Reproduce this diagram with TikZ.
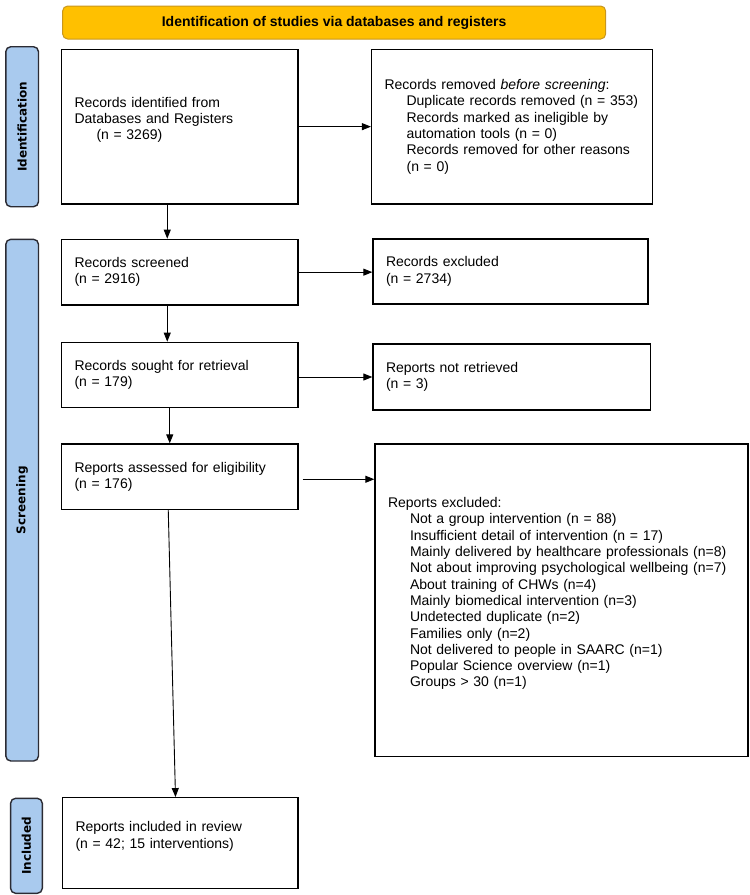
\documentclass[tikz,border=0pt]{standalone}
\usepackage{fontspec}
\setmainfont{Liberation Sans}
\newfontfamily\sidefont{DejaVu Sans}
\usetikzlibrary{arrows.meta}
\definecolor{bannerfill}{HTML}{FFC000}
\definecolor{bannerdraw}{HTML}{C8961E}
\definecolor{sidefill}{HTML}{A9CAEE}
\definecolor{sidedraw}{HTML}{2B2B33}
\newcommand{\ind}{\hspace*{22pt}}
\begin{document}
\begin{tikzpicture}[x=1pt,y=-1pt,
  box/.style={draw=black, line width=1.3pt, fill=white, inner xsep=13pt, inner ysep=0pt,
    align=left, font=\fontsize{14}{16.3}\selectfont},
  banner/.style={draw=bannerdraw, line width=1pt, fill=bannerfill, rounded corners=5pt,
    minimum width=543pt, minimum height=33pt, inner sep=0pt,
    font=\fontsize{14}{16}\selectfont\bfseries},
  sidelab/.style={draw=sidedraw, line width=1.4pt, fill=sidefill, rounded corners=5pt,
    rotate=90, inner sep=0pt, font=\sidefont\fontsize{12}{14}\selectfont\bfseries},
  arr/.style={line width=0.9pt, -{Triangle[length=9pt,width=7pt]}},
  ]
\useasboundingbox (0,0) rectangle (750,895);

\node[banner] (ban) at (334.15,22.5) {Identification of studies via databases and registers};

\node[sidelab, minimum width=160pt, minimum height=32.7pt] (idlab) at (22.15,126.7) {Identification};
\node[sidelab, minimum width=521.7pt, minimum height=32.7pt] (scrlab) at (22.15,500.15) {Screening};
\node[sidelab, minimum width=95pt, minimum height=31.7pt] (incllab) at (26.45,845.8) {Included};

\node[box, text width=210.5pt, minimum height=154.7pt] (ident) at (179.75,126.65)
  {Records identified from\\Databases and Registers\\\ind(n = 3269)\\\mbox{}};
\node[box, text width=254.8pt, minimum height=154.7pt] (rem) at (512,126.65)
  {Records removed \textit{before screening}:\\
   \ind Duplicate records removed (n = 353)\\
   \ind Records marked as ineligible by\\
   \ind automation tools (n = 0)\\
   \ind Records removed for other reasons\\
   \ind (n = 0)};

\node[box, text width=210.5pt, minimum height=65.7pt] (scr) at (179.75,272.15)
  {Records screened\\(n = 2916)};
\node[box, text width=249pt, minimum height=65pt] (excl) at (510.5,271.5)
  {Records excluded\\(n = 2734)};

\node[box, text width=210.5pt, minimum height=65pt] (sought) at (179.75,374.8)
  {Records sought for retrieval\\(n = 179)};
\node[box, text width=251.5pt, minimum height=66pt] (notr) at (511.75,377)
  {Reports not retrieved\\(n = 3)};

\node[box, text width=210.5pt, minimum height=65.3pt] (assess) at (179.75,476.65)
  {Reports assessed for eligibility\\(n = 176)};
\node[box, text width=347pt, minimum height=312.7pt] (rexcl) at (561.5,600.35)
  {Reports excluded:\\
   \ind Not a group intervention (n = 88)\\
   \ind Insufficient detail of intervention (n = 17)\\
   \ind Mainly delivered by healthcare professionals (n=8)\\
   \ind Not about improving psychological wellbeing (n=7)\\
   \ind About training of CHWs (n=4)\\
   \ind Mainly biomedical intervention (n=3)\\
   \ind Undetected duplicate (n=2)\\
   \ind Families only (n=2)\\
   \ind Not delivered to people in SAARC (n=1)\\
   \ind Popular Science overview (n=1)\\
   \ind Groups {>} 30 (n=1)\\\mbox{}};

\node[box, text width=209.5pt, minimum height=90.6pt] (incl) at (180.25,843)
  {Reports included in review\\(n = 42; 15 interventions)\\\mbox{}};

\draw[arr] (ident.east) -- (rem.west);
\draw[arr] (scr.east) -- (scr.east -| excl.west);
\draw[arr] (notr.west -| sought.east) -- (notr.west);
\draw[arr] ([xshift=4pt,yshift=-2.6pt]assess.east) -- ([yshift=-2.6pt]assess.east -| rexcl.west);

\draw[arr] ([xshift=-12.5pt]ident.south) -- ([xshift=-12.5pt]scr.north);
\draw[arr] ([xshift=-12.5pt]scr.south) -- ([xshift=-12.5pt]sought.north);
\draw[arr] ([xshift=-10pt]sought.south) -- ([xshift=-10pt]assess.north);
\draw[arr] ([xshift=-11.5pt]assess.south) -- ([xshift=-4.75pt]incl.north);
\end{tikzpicture}
\end{document}
